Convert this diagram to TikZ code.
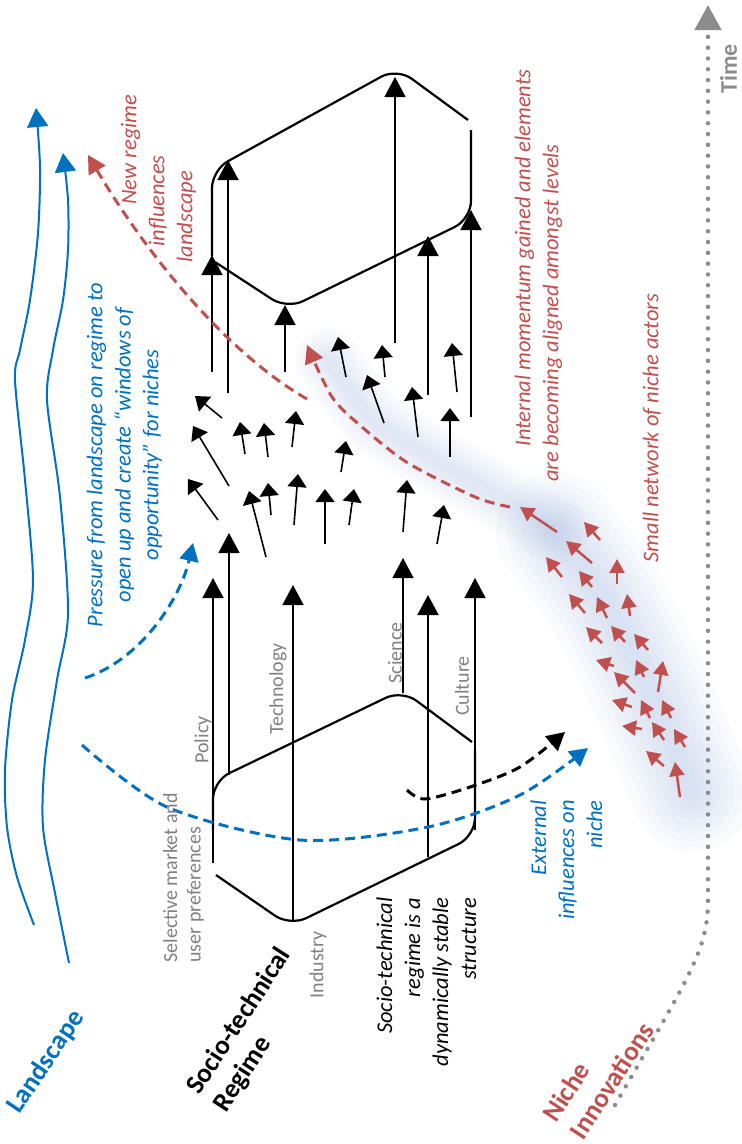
\documentclass[tikz,border=0pt]{standalone}
\usepackage{fontspec}
\setmainfont{Carlito}
\usetikzlibrary{arrows.meta,positioning}
\definecolor{lsblue}{RGB}{0,112,192}
\definecolor{nired}{RGB}{192,80,77}
\definecolor{lblgray}{RGB}{128,128,128}
\definecolor{timegray}{RGB}{140,140,140}
\definecolor{glowblue}{RGB}{170,190,225}

\begin{document}
\begin{tikzpicture}[x=1pt,y=-1pt,every node/.style={inner sep=0pt},
    lvltext/.style={font=\fontsize{27}{32}\selectfont\bfseries,align=left},
    graytext/.style={text=lblgray,font=\fontsize{20}{23.5}\selectfont,rotate=90},
    notetext/.style={font=\fontsize{22.5}{28}\selectfont\itshape,rotate=90},
    boxline/.style={line width=2.2pt,rounded corners=18pt},
    glowline/.style={glowblue,line cap=round,line join=round,opacity=0.07},
    bigarrow/.style={line width=1.5pt,-{Triangle[length=20pt,width=21pt]}},
    smallarrow/.style={line width=1.6pt,-{Triangle[length=13pt,width=19pt]}},
    nicharrow/.style={nired,line width=2.5pt,-{Triangle[length=14pt,width=15pt]}},
    waveline/.style={lsblue,line width=2pt,-{Triangle[length=19pt,width=21pt]}},
    dashline/.style={line width=3pt,dash pattern=on 10pt off 6pt,-{Triangle[length=18pt,width=19pt]}},
    timeline/.style={timegray,line width=4.5pt,line cap=round,dash pattern=on 0pt off 10.8pt,-{Triangle[length=25pt,width=26pt]}}]
    \useasboundingbox (0,0) rectangle (742,1144);

    % glow round the niche network
    \foreach \w in {120,100,85,70,55,42,30,18}
      \draw[glowline,line width=\w pt]
        plot[smooth] coordinates {(692,792) (652,695) (606,602) (556,532)};
    \foreach \w in {64,52,40,30,20,12}
      \draw[glowline,line width=\w pt]
        plot[smooth] coordinates {(556,532) (500,497) (432,458) (372,418) (328,360)};

    % landscape
    \draw[waveline] plot[smooth] coordinates {(34,925) (17,877) (7,827) (5,770) (12,700) (25,640) (33,580) (25,480) (15,380) (20,350) (30,300) (38,233) (40,167) (36,108)};
    \draw[waveline] plot[smooth] coordinates {(69,963) (55,893) (43,827) (45,760) (57,680) (68,613) (60,497) (47,400) (53,350) (63,300) (68,250) (68,200) (63,153)};

    % regime, lower and upper
    \draw[boxline] (213,830) -- (213,781) -- (402,690) -- (472,742);
    \draw[boxline] (475,750) -- (475,836) -- (290,926) -- (216,875);
    \draw[boxline] (212,256) -- (212,170) -- (397,68) -- (468,120);
    \draw[boxline] (471,130) -- (471,219) -- (287,309) -- (215,262);

    \foreach \xa/\ya/\xb/\yb in {213/863/213/578, 229/775/229/533, 293/921/293/585,
        403/693/403/558, 428/857/428/595, 475/830/475/578,
        212/372/212/255, 228/393/228/160, 285/372/285/305,
        395/343/395/77, 428/395/428/236, 471/417/471/210}
      \draw[bigarrow] (\xa,\ya) -- (\xb,\yb);

    \foreach \xa/\ya/\xb/\yb in {222/418/195/396, 229/486/193/426, 218/520/188/479,
        245/454/240/422, 268/457/264/423, 292/447/296/411, 266/557/249/491,
        271/515/268/483, 294/525/298/474, 325/544/325/489, 349/525/354/489,
        341/472/346/441, 346/377/338/337, 385/377/382/345, 384/423/367/375,
        418/437/412/387, 457/392/452/343, 450/457/450/408, 403/532/407/480,
        437/544/444/505}
      \draw[smallarrow] (\xa,\ya) -- (\xb,\yb);

    % niche network
    \foreach \xa/\ya/\xb/\yb in {557/532/520/507, 600/540/584/522, 592/563/566/541,
        562/577/546/557, 592/587/579/571, 617/584/617/559, 585/613/569/594,
        607/618/597/597, 630/616/627/594, 602/643/586/627, 625/642/611/626,
        648/650/634/634, 614/666/596/660, 644/677/636/660, 658/692/663/661,
        635/693/614/672, 632/707/612/700, 650/718/641/700, 671/718/662/700,
        642/729/622/726, 664/740/652/722, 685/747/674/729, 664/766/646/751,
        680/797/675/762}
      \draw[nicharrow] (\xa,\ya) -- (\xb,\yb);

    % influences
    \draw[dashline,lsblue] (85,678) .. controls (140,660) and (180,600) .. (193,543);
    \draw[dashline,lsblue] plot[smooth] coordinates {(82,745) (167,807) (300,840) (428,827) (520,795) (588,748)};
    \draw[dashline,black] plot[smooth] coordinates {(407,790) (425,799) (470,787) (520,767) (565,732)};
    \draw[dashline,nired] (307,399) .. controls (230,355) and (150,260) .. (88,155);
    \draw[dashline,nired] plot[smooth] coordinates {(510,507) (475,497) (408,463) (362,427) (332,397) (307,345)};

    % time
    \draw[timeline] (615,1105) .. controls (690,975) and (708,950) .. (708,900) -- (708,5);
    \node[text=timegray,font=\fontsize{24}{28}\selectfont\bfseries,text depth=0pt,rotate=90,anchor=south] (time) at (737,69) {Time};

    % labels
    \node[lvltext,text=lsblue,rotate=56] (landscape) at (46,1062) {Landscape};
    \node[lvltext,rotate=57] (regime) at (253,1030) {Socio-technical\\Regime};
    \node[lvltext,text=nired,rotate=57] (niche) at (598,1072) {Niche\\Innovations};
    \node[graytext] (policy) at (203,740) {Policy};
    \node[graytext] (technology) at (278,689) {Technology};
    \node[graytext] (science) at (395,653) {Science};
    \node[graytext] (culture) at (462,686) {Culture};
    \node[graytext] (industry) at (318,965) {Industry};
    \node[graytext,align=left] (market) at (183.5,878) {Selective market and\\user preferences};
    \node[notetext,align=right] (stable) at (426.5,982) {Socio-technical\\regime is a\\dynamically stable\\structure};
    \node[notetext,text=lsblue,align=right] (external) at (566.5,860) {External\\influences on\\niche};
    \node[notetext,text=lsblue,align=center] (pressure) at (124.5,455) {Pressure from landscape on regime to\\open up and create “windows of\\opportunity” for niches};
    \node[notetext,text=nired,align=left] (newregime) at (158.5,178.5) {\hspace*{58pt}New regime\\\hspace*{16pt}influences\\landscape};
    \node[notetext,text=nired,align=left] (momentum) at (538.5,275.5) {\hspace*{35pt}Internal momentum gained and elements\\are becoming aligned amongst levels};
    \node[notetext,text=nired] (network) at (652,428) {Small network of niche actors};
  \end{tikzpicture}
\end{document}
